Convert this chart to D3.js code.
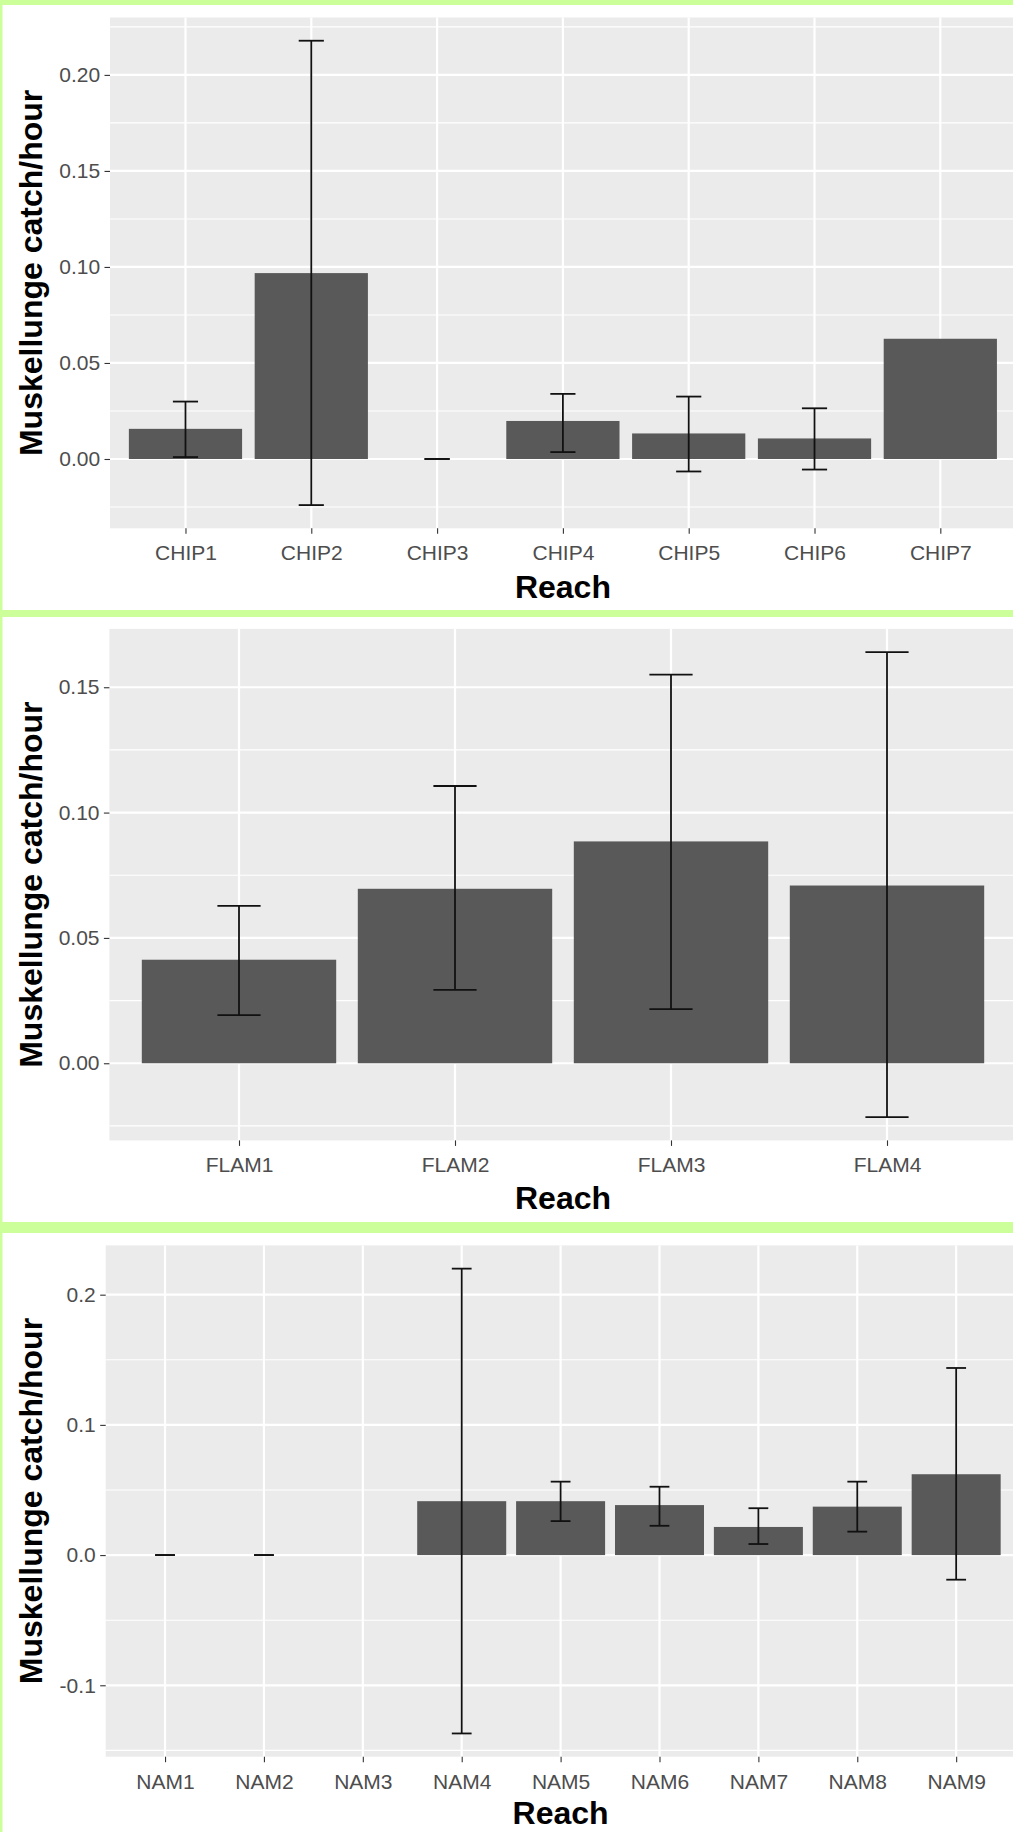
<!DOCTYPE html>
<html>
<head>
<meta charset="utf-8">
<script src="https://cdn.jsdelivr.net/npm/d3@7"></script>
<style>
  html, body { margin: 0; padding: 0; background: #ffffff; }
  svg { display: block; }
  text { font-family: "Liberation Sans", Arial, sans-serif; }
</style>
</head>
<body>
<svg id="chart" width="1013" height="1832"></svg>
<script>
// ---------------- DATA ----------------
const chipReach = ["CHIP1", "CHIP2", "CHIP3", "CHIP4", "CHIP5", "CHIP6", "CHIP7"];
const chipCatch = [0.0157, 0.0968, 0, 0.0198, 0.0133, 0.0107, 0.0626];
const chipLower = [0.0010, -0.0240, 0, 0.0036, -0.0065, -0.0055, null];
const chipUpper = [0.0299, 0.2178, 0, 0.0339, 0.0325, 0.0264, null];
const chipTicks = [0, 0.05, 0.10, 0.15, 0.20];
const chipTickLabels = ["0.00", "0.05", "0.10", "0.15", "0.20"];

const flamReach = ["FLAM1", "FLAM2", "FLAM3", "FLAM4"];
const flamCatch = [0.0413, 0.0696, 0.0885, 0.0709];
const flamLower = [0.0192, 0.0293, 0.0216, -0.0215];
const flamUpper = [0.0628, 0.1106, 0.1550, 0.1640];
const flamTicks = [0, 0.05, 0.10, 0.15];
const flamTickLabels = ["0.00", "0.05", "0.10", "0.15"];

const namReach = ["NAM1", "NAM2", "NAM3", "NAM4", "NAM5", "NAM6", "NAM7", "NAM8", "NAM9"];
const namCatch = [0, 0, null, 0.0414, 0.0414, 0.0384, 0.0216, 0.0372, 0.0621];
const namLower = [0, 0, null, -0.1370, 0.0261, 0.0225, 0.0085, 0.0180, -0.0189];
const namUpper = [0, 0, null, 0.2200, 0.0564, 0.0525, 0.0360, 0.0564, 0.1437];
const namTicks = [-0.1, 0, 0.1, 0.2];
const namTickLabels = ["-0.1", "0.0", "0.1", "0.2"];

const xTitle = "Reach";
const yTitle = "Muskellunge catch/hour";

// ---------------- LAYOUT ----------------
const W = 1013, H = 1832;
const svg = d3.select("#chart");
svg.append("rect").attr("width", W).attr("height", H).attr("fill", "#ffffff");

const panels = [
  { reach: chipReach, mean: chipCatch, lo: chipLower, hi: chipUpper, ticks: chipTicks, labels: chipTickLabels,
    left: 110, right: 1015.8, top: 17.5, bottom: 528.3, titleGap: 70 },
  { reach: flamReach, mean: flamCatch, lo: flamLower, hi: flamUpper, ticks: flamTicks, labels: flamTickLabels,
    left: 109.4, right: 1016.6, top: 628.9, bottom: 1140.4, titleGap: 69 },
  { reach: namReach, mean: namCatch, lo: namLower, hi: namUpper, ticks: namTicks, labels: namTickLabels,
    left: 105.7, right: 1015.5, top: 1245.4, bottom: 1756.7, titleGap: 67.5 }
];

panels.forEach(p => {
  const g = svg.append("g");
  const rows = p.reach.map((r, i) => ({ reach: r, mean: p.mean[i], lo: p.lo[i], hi: p.hi[i] }));

  // y domain: data range (incl. 0 and error bars) expanded by 5%
  const vals = [0];
  rows.forEach(d => { [d.mean, d.lo, d.hi].forEach(v => { if (v !== null) vals.push(v); }); });
  const [mn, mx] = d3.extent(vals);
  const pad = (mx - mn) * 0.05;
  const y = d3.scaleLinear().domain([mn - pad, mx + pad]).range([p.bottom, p.top]);
  const x = d3.scalePoint().domain(p.reach).range([p.left, p.right]).padding(0.6);
  const step = x.step();

  // panel background
  g.append("rect")
    .attr("x", p.left).attr("y", p.top)
    .attr("width", p.right - p.left).attr("height", p.bottom - p.top)
    .attr("fill", "#ebebeb");

  // minor grid
  const tstep = p.ticks[1] - p.ticks[0];
  const minors = p.ticks.map(t => t - tstep / 2).concat([p.ticks[p.ticks.length - 1] + tstep / 2])
    .filter(v => v >= y.domain()[0] && v <= y.domain()[1]);
  g.selectAll(".minor").data(minors).join("line")
    .attr("x1", p.left).attr("x2", p.right)
    .attr("y1", d => y(d)).attr("y2", d => y(d))
    .attr("stroke", "#ffffff").attr("stroke-width", 1.1);

  // major grid
  g.selectAll(".major").data(p.ticks).join("line")
    .attr("x1", p.left).attr("x2", p.right)
    .attr("y1", d => y(d)).attr("y2", d => y(d))
    .attr("stroke", "#ffffff").attr("stroke-width", 2.2);
  g.selectAll(".vmajor").data(p.reach).join("line")
    .attr("x1", d => x(d)).attr("x2", d => x(d))
    .attr("y1", p.top).attr("y2", p.bottom)
    .attr("stroke", "#ffffff").attr("stroke-width", 2.2);

  // bars
  g.selectAll(".bar").data(rows.filter(d => d.mean !== null && d.mean !== 0)).join("rect")
    .attr("x", d => x(d.reach) - step * 0.45)
    .attr("width", step * 0.9)
    .attr("y", d => Math.min(y(d.mean), y(0)))
    .attr("height", d => Math.abs(y(0) - y(d.mean)))
    .attr("fill", "#595959");

  // error bars
  const eb = rows.filter(d => d.lo !== null && d.hi !== null);
  const ebg = g.append("g").attr("stroke", "#111").attr("stroke-width", 1.8).attr("fill", "none");
  ebg.selectAll(".ev").data(eb).join("line")
    .attr("x1", d => x(d.reach)).attr("x2", d => x(d.reach))
    .attr("y1", d => y(d.lo)).attr("y2", d => y(d.hi));
  ebg.selectAll(".ecl").data(eb).join("line")
    .attr("x1", d => x(d.reach) - step * 0.1).attr("x2", d => x(d.reach) + step * 0.1)
    .attr("y1", d => y(d.lo)).attr("y2", d => y(d.lo));
  ebg.selectAll(".ech").data(eb).join("line")
    .attr("x1", d => x(d.reach) - step * 0.1).attr("x2", d => x(d.reach) + step * 0.1)
    .attr("y1", d => y(d.hi)).attr("y2", d => y(d.hi));

  // y axis
  const ya = g.append("g").attr("transform", `translate(${p.left},0)`)
    .call(d3.axisLeft(y).tickValues(p.ticks).tickSize(5.5).tickPadding(4.4)
      .tickFormat((d, i) => p.labels[i]));
  ya.select(".domain").remove();
  ya.selectAll(".tick line").attr("stroke", "#333").attr("stroke-width", 1.1);
  ya.selectAll(".tick text").attr("fill", "#4d4d4d").style("font-size", "21px")
    .style("font-family", '"Liberation Sans", Arial, sans-serif');

  // x axis
  const xa = g.append("g").attr("transform", `translate(0,${p.bottom})`)
    .call(d3.axisBottom(x).tickSize(5.5).tickPadding(11.6));
  xa.select(".domain").remove();
  xa.selectAll(".tick line").attr("stroke", "#333").attr("stroke-width", 1.1);
  xa.selectAll(".tick text").attr("fill", "#4d4d4d").style("font-size", "21px")
    .style("font-family", '"Liberation Sans", Arial, sans-serif');

  // titles
  g.append("text")
    .attr("x", (p.left + p.right) / 2).attr("y", p.bottom + p.titleGap)
    .attr("text-anchor", "middle")
    .style("font-size", "32px").style("font-weight", "bold").attr("fill", "#000")
    .text(xTitle);
  g.append("text")
    .attr("transform", `translate(41.7,${(p.top + p.bottom) / 2}) rotate(-90)`)
    .attr("text-anchor", "middle")
    .style("font-size", "32px").style("font-weight", "bold").attr("fill", "#000")
    .text(yTitle);
});

// green frame (light green borders)
const green = "#ccff99";
svg.append("rect").attr("x", 0).attr("y", 0).attr("width", W).attr("height", 5).attr("fill", green);
svg.append("rect").attr("x", 0).attr("y", 0).attr("width", 2.5).attr("height", H).attr("fill", green);
svg.append("rect").attr("x", 0).attr("y", 610).attr("width", W).attr("height", 7).attr("fill", green);
svg.append("rect").attr("x", 0).attr("y", 1222).attr("width", W).attr("height", 11).attr("fill", green);
</script>
</body>
</html>
